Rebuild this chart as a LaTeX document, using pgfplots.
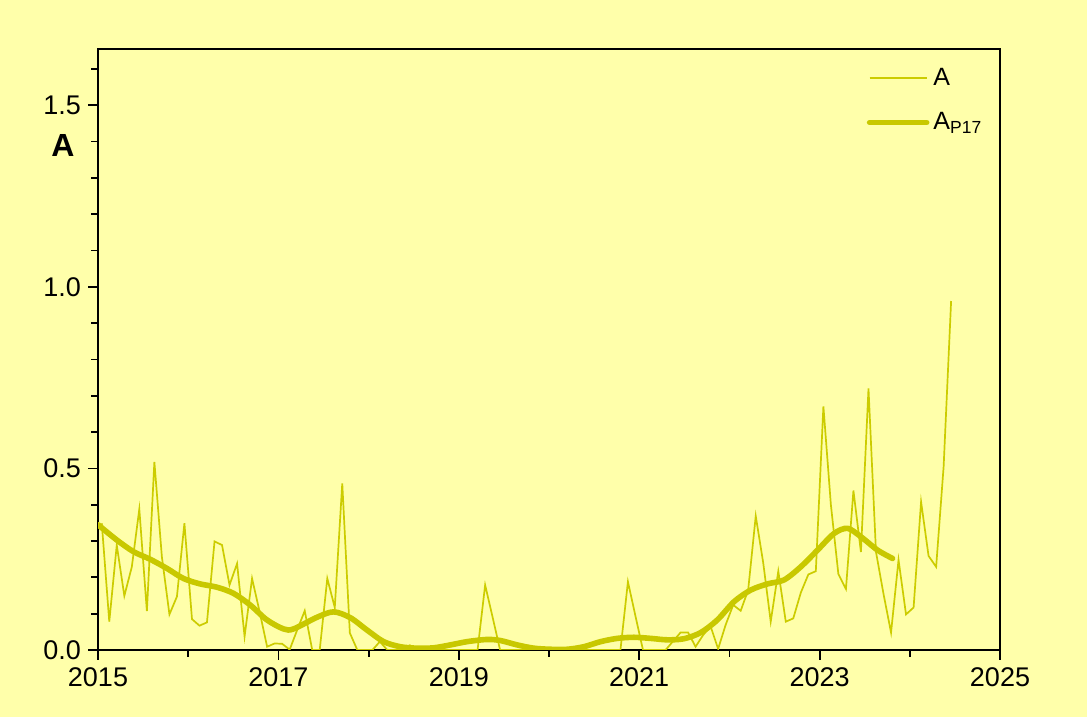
\documentclass[border=0pt]{standalone}
\usepackage{fontspec}
\setmainfont{Liberation Sans}
\usepackage{pgfplots}
\pgfplotsset{compat=1.18}
\definecolor{bgc}{RGB}{255,255,170}
\definecolor{lc}{RGB}{204,204,0}
\definecolor{lc2}{RGB}{200,200,0}
\begin{document}
\begin{tikzpicture}
\path[use as bounding box, fill=bgc] (-49pt,-33.5pt) rectangle (494.5pt,325pt);
\begin{axis}[
  scale only axis,
  width=451pt, height=300.5pt,
  xmin=2015, xmax=2025, ymin=0, ymax=1.655,
  axis line style={line width=1pt, black},
  xtick={2015,2017,2019,2021,2023,2025},
  minor xtick={2016,2018,2020,2022,2024},
  ytick={0,0.5,1,1.5},
  minor ytick={0.1,0.2,0.3,0.4,0.6,0.7,0.8,0.9,1.1,1.2,1.3,1.4,1.6},
  tick align=outside,
  xtick pos=left, ytick pos=left,
  major tick length=5pt, minor tick length=3.5pt,
  tick style={line width=0.9pt, black},
  /pgf/number format/assume math mode=true,
  xticklabel style={/pgf/number format/1000 sep={}, font=\fontsize{13.5}{16}\selectfont, yshift=-0.5pt},
  yticklabel style={/pgf/number format/fixed, /pgf/number format/fixed zerofill, /pgf/number format/precision=1, font=\fontsize{13.5}{16}\selectfont},
  ylabel={\textbf{A}},
  ylabel style={rotate=-90, at={(axis description cs:-0.039,0.839)}, anchor=center, font=\fontsize{16}{19}\selectfont},
  legend style={at={(axis description cs:0.8453,0.982)}, anchor=north west, draw=none, fill=none, font=\fontsize{12.5}{15}\selectfont, row sep=8pt, cells={anchor=west}},
  legend image code/.code={\draw[#1] (0pt,0pt) -- (28.5pt,0pt);},
]
\addplot[lc, line width=0.85pt] table {
x y
2015.042 0.349
2015.125 0.078
2015.208 0.289
2015.292 0.149
2015.375 0.229
2015.458 0.388
2015.542 0.107
2015.625 0.518
2015.708 0.257
2015.792 0.098
2015.875 0.147
2015.958 0.349
2016.042 0.085
2016.125 0.067
2016.208 0.076
2016.292 0.299
2016.375 0.289
2016.458 0.179
2016.542 0.238
2016.625 0.037
2016.708 0.197
2016.792 0.105
2016.875 0.009
2016.958 0.018
2017.042 0.017
2017.125 0.001
2017.208 0.055
2017.292 0.108
2017.375 0
2017.458 0
2017.542 0.197
2017.625 0.117
2017.708 0.459
2017.792 0.047
2017.875 0
2017.958 0
2018.042 0
2018.125 0.023
2018.208 0
2018.292 0
2018.375 0
2018.458 0.013
2018.542 0
2018.625 0
2018.708 0
2018.792 0
2018.875 0
2018.958 0
2019.042 0
2019.125 0
2019.208 0
2019.292 0.179
2019.375 0.090
2019.458 0
2019.542 0
2019.625 0
2019.708 0
2019.792 0
2019.875 0
2019.958 0
2020.042 0
2020.125 0
2020.208 0
2020.292 0
2020.375 0
2020.458 0
2020.542 0
2020.625 0
2020.708 0
2020.792 0
2020.875 0.188
2020.958 0.094
2021.042 0
2021.125 0
2021.208 0
2021.292 0
2021.375 0.024
2021.458 0.048
2021.542 0.048
2021.625 0.009
2021.708 0.041
2021.792 0.065
2021.875 0.003
2021.958 0.069
2022.042 0.124
2022.125 0.108
2022.208 0.165
2022.292 0.369
2022.375 0.240
2022.458 0.078
2022.542 0.217
2022.625 0.078
2022.708 0.087
2022.792 0.158
2022.875 0.208
2022.958 0.217
2023.042 0.671
2023.125 0.400
2023.208 0.209
2023.292 0.168
2023.375 0.439
2023.458 0.270
2023.542 0.720
2023.625 0.270
2023.708 0.155
2023.792 0.048
2023.875 0.248
2023.958 0.098
2024.042 0.117
2024.125 0.408
2024.208 0.259
2024.292 0.229
2024.375 0.505
2024.458 0.961
};
\addlegendentry{A}
\addplot[lc2, line width=2.8pt, smooth, line cap=round] table {
x y
2015.000 0.345
2015.208 0.303
2015.392 0.271
2015.577 0.250
2015.762 0.225
2015.947 0.197
2016.132 0.182
2016.317 0.173
2016.502 0.156
2016.687 0.124
2016.872 0.083
2017.057 0.058
2017.168 0.058
2017.427 0.090
2017.612 0.105
2017.797 0.089
2017.982 0.055
2018.167 0.023
2018.352 0.009
2018.537 0.005
2018.721 0.006
2018.907 0.014
2019.092 0.023
2019.314 0.029
2019.462 0.026
2019.647 0.014
2019.831 0.005
2020.017 0.002
2020.202 0.002
2020.386 0.009
2020.572 0.023
2020.757 0.032
2020.941 0.035
2021.126 0.032
2021.312 0.028
2021.496 0.031
2021.682 0.048
2021.867 0.083
2022.051 0.133
2022.236 0.165
2022.422 0.182
2022.606 0.193
2022.791 0.229
2022.977 0.275
2023.161 0.321
2023.310 0.335
2023.457 0.312
2023.643 0.275
2023.809 0.252
};
\addlegendentry{A\textsubscript{P17}}
\end{axis}
\end{tikzpicture}
\end{document}
